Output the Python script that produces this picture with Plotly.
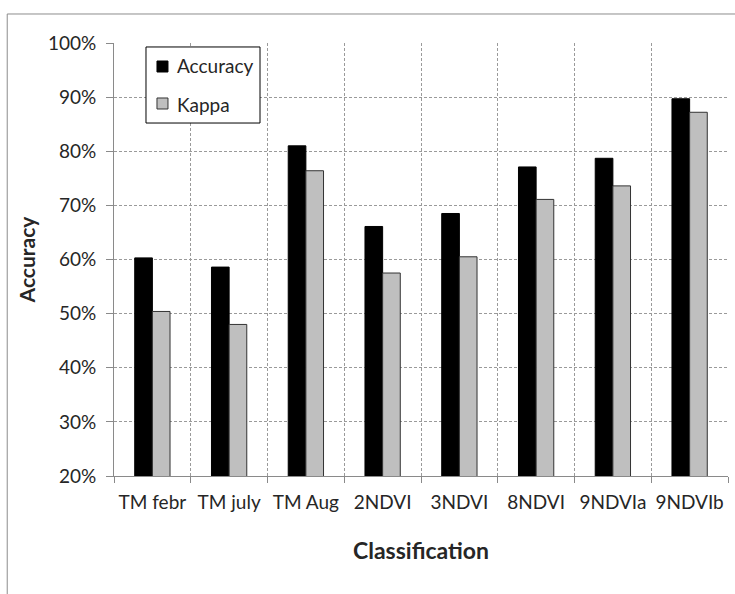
import plotly.graph_objects as go

# Classification accuracy and kappa per input dataset (percent)
categories = ["TM febr", "TM july", "TM Aug", "2NDVI", "3NDVI", "8NDVI", "9NDVIa", "9NDVIb"]
accuracy = [60.3, 58.6, 81.0, 66.1, 68.5, 77.1, 78.7, 89.7]
kappa = [50.4, 48.0, 76.4, 57.5, 60.5, 71.1, 73.6, 87.2]
y_ticks = [20, 30, 40, 50, 60, 70, 80, 90, 100]
y_tick_labels = [f"{v}%" for v in y_ticks]

FONT = "Lato"
TEXT = "#262626"
GRID = "#9a9a9a"
AXIS = "#8a8a8a"
ACC_COLOR = "#000000"
KAPPA_COLOR = "#bfbfbf"

fig = go.Figure()
fig.add_trace(go.Bar(
    x=categories, y=accuracy, name="Accuracy",
    marker=dict(color=ACC_COLOR, line=dict(color="#000000", width=1)),
))
fig.add_trace(go.Bar(
    x=categories, y=kappa, name="Kappa",
    marker=dict(color=KAPPA_COLOR, line=dict(color="#333333", width=1)),
))

# outer chart frame
fig.add_shape(type="rect", xref="paper", yref="paper",
              x0=-0.1739, x1=1.03, y0=-0.3, y1=1.067,
              line=dict(color="#8c8c8c", width=1), fillcolor="rgba(0,0,0,0)", layer="below")

# boxed legend in the upper-left corner of the plot
fig.add_shape(type="rect", xref="paper", yref="paper",
              x0=0.0521, x1=0.2378, y0=0.8152, y1=0.9908,
              line=dict(color="#000000", width=1), fillcolor="white", layer="above")
legend_rows = [("Accuracy", ACC_COLOR, "#000000", 0.9330, 0.9584, 0.9469),
               ("Kappa", KAPPA_COLOR, "#333333", 0.8476, 0.8730, 0.8591)]
for label, fill, edge, sy0, sy1, ty in legend_rows:
    fig.add_shape(type="rect", xref="paper", yref="paper",
                  x0=0.0700, x1=0.0879, y0=sy0, y1=sy1,
                  line=dict(color=edge, width=1), fillcolor=fill, layer="above")
    fig.add_annotation(xref="paper", yref="paper", x=0.0993, y=ty,
                       xanchor="left", yanchor="middle", showarrow=False,
                       text=label, font=dict(family=FONT, size=19, color=TEXT))

fig.update_layout(
    width=735, height=594,
    margin=dict(l=114, r=7, t=43, b=118),
    paper_bgcolor="white", plot_bgcolor="white",
    font=dict(family=FONT, size=19, color=TEXT),
    barmode="group", bargap=0.54, bargroupgap=0,
    showlegend=False,
    xaxis=dict(
        type="category", tickson="boundaries", tickangle=0,
        ticks="outside", ticklen=6, tickcolor=AXIS,
        showline=True, linecolor=AXIS, linewidth=1,
        showgrid=True, gridcolor=GRID, griddash="3px,2px", gridwidth=1,
        tickfont=dict(family=FONT, size=19, color=TEXT),
        ticklabelstandoff=9,
        title=dict(text="<b>Classification</b>", font=dict(family=FONT, size=23, color=TEXT), standoff=31),
        automargin=False,
    ),
    yaxis=dict(
        range=[20, 100], tickvals=y_ticks, ticktext=y_tick_labels,
        ticks="outside", ticklen=7, tickcolor=AXIS,
        showline=True, linecolor=AXIS, linewidth=1,
        showgrid=True, gridcolor=GRID, griddash="3px,2px", gridwidth=1,
        tickfont=dict(family=FONT, size=19, color=TEXT),
        ticklabelstandoff=6,
        title=dict(text="<b>Accuracy</b>", font=dict(family=FONT, size=21, color=TEXT), standoff=6),
        automargin=False, zeroline=False,
    ),
)

fig.write_html("out.html")
